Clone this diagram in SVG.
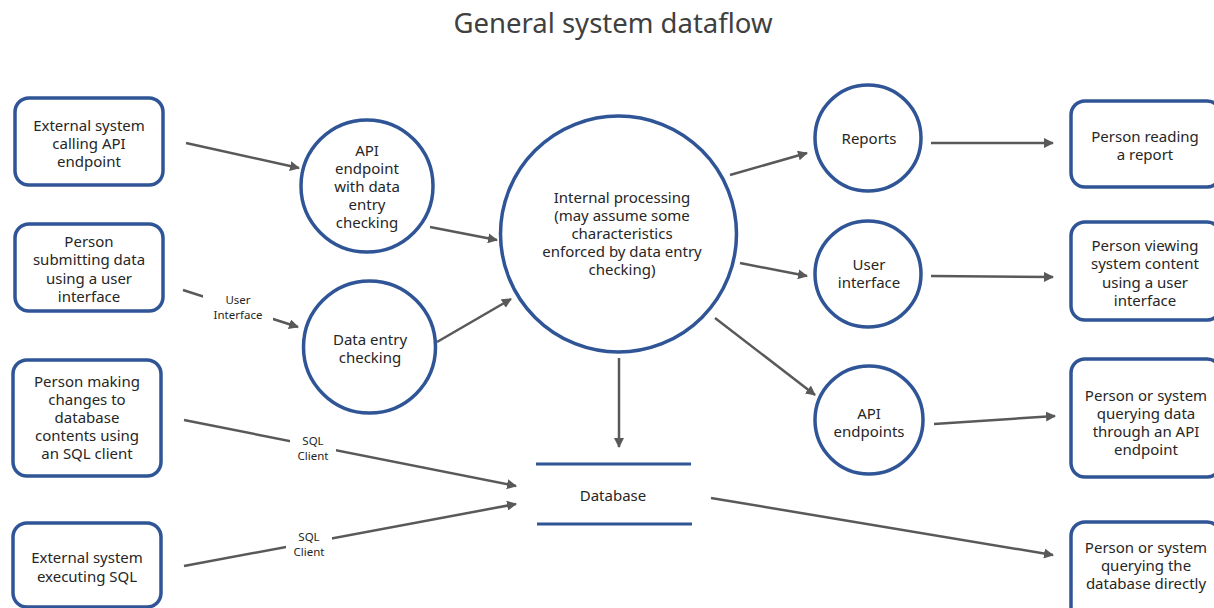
<svg xmlns="http://www.w3.org/2000/svg" width="1214" height="608" viewBox="0 0 1214 608">
<defs>
<style>
text{font-family:"Noto Sans","Open Sans","Liberation Sans",sans-serif;fill:#262626;text-anchor:middle;dominant-baseline:central}
.t{font-size:15px}
.lbl{font-size:11.5px}
.title{font-size:27.5px;fill:#404040}
.box{fill:#fff;stroke:#2f5597;stroke-width:3.5}
.c{fill:#fff;stroke:#2f5597;stroke-width:3.5}
.e{stroke:#595959;stroke-width:2.5;fill:none;marker-end:url(#ah)}
.db{stroke:#2f5597;stroke-width:3}
.bg{fill:#fff}
</style>
<marker id="ah" viewBox="0 0 10 10" refX="9" refY="5" markerWidth="4" markerHeight="4" orient="auto" markerUnits="strokeWidth">
<path d="M0,0 L10,5 L0,10 z" fill="#595959"/>
</marker>
</defs>
<rect width="1214" height="608" fill="#fff"/>
<text class="title" x="613" y="22">General system dataflow</text>

<g id="connectors">
<line class="e" x1="186" y1="143" x2="299" y2="168"/>
<line class="e" x1="430" y1="227" x2="497" y2="240"/>
<line class="e" x1="183" y1="290" x2="298" y2="327"/>
<line class="e" x1="437" y1="342" x2="511" y2="299"/>
<line class="e" x1="730" y1="175" x2="807" y2="153"/>
<line class="e" x1="740" y1="263" x2="807" y2="276"/>
<line class="e" x1="715" y1="318" x2="815" y2="395"/>
<line class="e" x1="931" y1="143" x2="1053" y2="143"/>
<line class="e" x1="931" y1="276" x2="1053" y2="277"/>
<line class="e" x1="934" y1="424" x2="1055" y2="416"/>
<line class="e" x1="619" y1="358" x2="619" y2="447"/>
<line class="e" x1="184" y1="420" x2="516" y2="486"/>
<line class="e" x1="184" y1="566" x2="516" y2="504"/>
<line class="e" x1="711" y1="498" x2="1053" y2="555"/>
<rect class="bg" x="203" y="290" width="70" height="32"/>
<text class="lbl" x="238" y="299">User</text>
<text class="lbl" x="238" y="314">Interface</text>
<rect class="bg" x="290" y="432" width="46" height="30"/>
<text class="lbl" x="313" y="440">SQL</text>
<text class="lbl" x="313" y="455">Client</text>
<rect class="bg" x="286" y="527" width="46" height="32"/>
<text class="lbl" x="309" y="536">SQL</text>
<text class="lbl" x="309" y="551">Client</text>
</g>

<g id="ext-api">
<rect class="box" x="15" y="98" width="148" height="87" rx="14"/>
<text class="t" x="89" y="125">External system</text>
<text class="t" x="89" y="143">calling API</text>
<text class="t" x="89" y="161">endpoint</text>
</g>
<g id="person-ui">
<rect class="box" x="15" y="224" width="148" height="87" rx="14"/>
<text class="t" x="89" y="241">Person</text>
<text class="t" x="89" y="259">submitting data</text>
<text class="t" x="89" y="278">using a user</text>
<text class="t" x="89" y="296">interface</text>
</g>
<g id="person-sql">
<rect class="box" x="13" y="360" width="148" height="116" rx="14"/>
<text class="t" x="87" y="381">Person making</text>
<text class="t" x="87" y="399">changes to</text>
<text class="t" x="87" y="417">database</text>
<text class="t" x="87" y="435">contents using</text>
<text class="t" x="87" y="453">an SQL client</text>
</g>
<g id="ext-sql">
<rect class="box" x="13" y="523" width="148" height="84" rx="14"/>
<text class="t" x="87" y="557">External system</text>
<text class="t" x="87" y="576">executing SQL</text>
</g>

<g id="api-check">
<circle class="c" cx="367" cy="186" r="66"/>
<text class="t" x="367" y="150">API</text>
<text class="t" x="367" y="168">endpoint</text>
<text class="t" x="367" y="186">with data</text>
<text class="t" x="367" y="204">entry</text>
<text class="t" x="367" y="222">checking</text>
</g>
<g id="data-check">
<circle class="c" cx="369.5" cy="347" r="66"/>
<text class="t" x="370" y="339">Data entry</text>
<text class="t" x="370" y="357">checking</text>
</g>
<g id="internal">
<circle class="c" cx="618.5" cy="234" r="118"/>
<text class="t" x="622" y="197">Internal processing</text>
<text class="t" x="622" y="215">(may assume some</text>
<text class="t" x="622" y="233">characteristics</text>
<text class="t" x="622" y="251">enforced by data entry</text>
<text class="t" x="622" y="269">checking)</text>
</g>
<g id="database">
<line class="db" x1="536" y1="464" x2="691" y2="464"/>
<line class="db" x1="537" y1="524" x2="692" y2="524"/>
<text class="t" x="613" y="495">Database</text>
</g>
<g id="reports">
<circle class="c" cx="868" cy="138" r="53"/>
<text class="t" x="869" y="138">Reports</text>
</g>
<g id="ui">
<circle class="c" cx="868" cy="274" r="53"/>
<text class="t" x="869" y="264">User</text>
<text class="t" x="869" y="282">interface</text>
</g>
<g id="api-endpoints">
<circle class="c" cx="869" cy="420" r="54"/>
<text class="t" x="869" y="413">API</text>
<text class="t" x="869" y="431">endpoints</text>
</g>

<g id="person-report">
<rect class="box" x="1071" y="101" width="150" height="86" rx="14"/>
<text class="t" x="1145" y="136">Person reading</text>
<text class="t" x="1145" y="154">a report</text>
</g>
<g id="person-view">
<rect class="box" x="1071" y="222" width="150" height="98" rx="14"/>
<text class="t" x="1145" y="245">Person viewing</text>
<text class="t" x="1145" y="263">system content</text>
<text class="t" x="1145" y="282">using a user</text>
<text class="t" x="1145" y="300">interface</text>
</g>
<g id="query-api">
<rect class="box" x="1071" y="359" width="150" height="118" rx="14"/>
<text class="t" x="1146" y="395">Person or system</text>
<text class="t" x="1146" y="413">querying data</text>
<text class="t" x="1146" y="431">through an API</text>
<text class="t" x="1146" y="449">endpoint</text>
</g>
<g id="query-db">
<rect class="box" x="1071" y="522" width="150" height="100" rx="14"/>
<text class="t" x="1146" y="547">Person or system</text>
<text class="t" x="1146" y="565">querying the</text>
<text class="t" x="1146" y="583">database directly</text>
</g>
</svg>
